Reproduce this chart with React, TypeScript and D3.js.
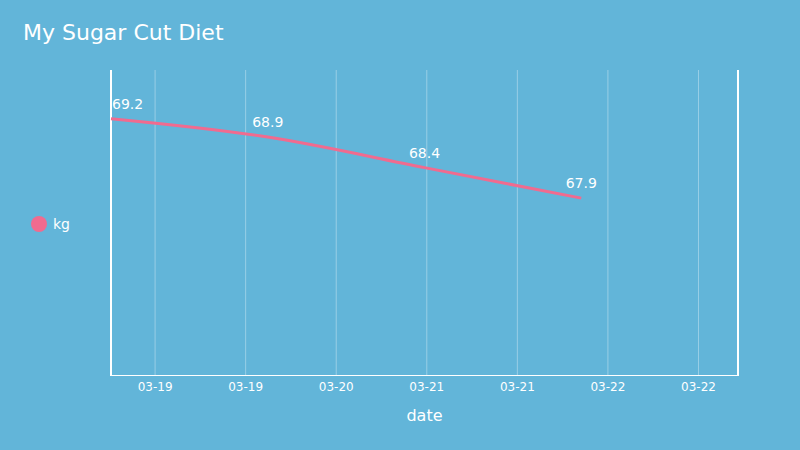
import React from "react";
import * as d3 from "d3";

const dates = ["2019-03-19T00:00", "2019-03-20T00:00", "2019-03-21T00:00", "2019-03-22T00:00"];
const weights = [69.2, 68.9, 68.4, 67.9];
const tickTimes = [
  "2019-03-19T06:45", "2019-03-19T20:37", "2019-03-20T10:29", "2019-03-21T00:21",
  "2019-03-21T14:13", "2019-03-22T04:05", "2019-03-22T17:57",
];
const xDomain = ["2019-03-19T00:00", "2019-03-23T00:00"];
const yDomain = [65, 70];
const seriesName = "kg";
const title = "My Sugar Cut Diet";
const xTitle = "date";

const W = 800, H = 450;
const M = { left: 111, right: 62, top: 70, bottom: 75 };
const BG = "#62b5d9";
const LINE = "#f06b8f";
const FONT = "DejaVu Sans, sans-serif";

export default function App() {
  const parse = (s: string) => new Date(s);
  const x = d3.scaleTime().domain(xDomain.map(parse)).range([M.left, W - M.right]);
  const y = d3.scaleLinear().domain(yDomain).range([H - M.bottom, M.top]);
  const fmt = d3.timeFormat("%m-%d");
  const pts = dates.map((d, i) => ({ t: parse(d), v: weights[i] }));
  const line = d3.line<{ t: Date; v: number }>().x((d) => x(d.t)).y((d) => y(d.v)).curve(d3.curveMonotoneX);
  const ticks = tickTimes.map(parse);
  const [y0, y1] = y.range();
  return (
    <svg width={W} height={H} style={{ position: "absolute", left: 0, top: 0, display: "block" }} fontFamily={FONT}>
      <rect width={W} height={H} fill={BG} />
      <text x={23} y={40} fill="#fff" fontSize={22}>{title}</text>
      {ticks.map((t, i) => (
        <g key={i}>
          <line x1={x(t)} x2={x(t)} y1={y1} y2={y0} stroke="rgba(255,255,255,0.35)" strokeWidth={1} />
          <text x={x(t)} y={y0 + 16} fill="#fff" fontSize={12} textAnchor="middle">{fmt(t)}</text>
        </g>
      ))}
      <line x1={M.left} x2={W - M.right} y1={y0 + 0.5} y2={y0 + 0.5} stroke="#fff" strokeWidth={1} />
      <line x1={M.left} x2={M.left} y1={y1} y2={y0 + 1} stroke="#fff" strokeWidth={2} />
      <line x1={W - M.right} x2={W - M.right} y1={y1} y2={y0 + 1} stroke="#fff" strokeWidth={2} />
      <path d={line(pts) || ""} fill="none" stroke={LINE} strokeWidth={3} />
      {pts.map((p, i) => {
        const px = x(p.t);
        const first = px - 15 < M.left;
        return (
          <text key={i} x={first ? M.left + 1 : px} y={y(p.v) - 10} fill="#fff" fontSize={14}
            textAnchor={first ? "start" : "middle"}>{p.v.toFixed(1)}</text>
        );
      })}
      <circle cx={39} cy={224} r={8} fill={LINE} />
      <text x={53} y={229} fill="#fff" fontSize={14}>{seriesName}</text>
      <text x={(M.left + W - M.right) / 2} y={421} fill="#fff" fontSize={16} textAnchor="middle">{xTitle}</text>
    </svg>
  );
}
